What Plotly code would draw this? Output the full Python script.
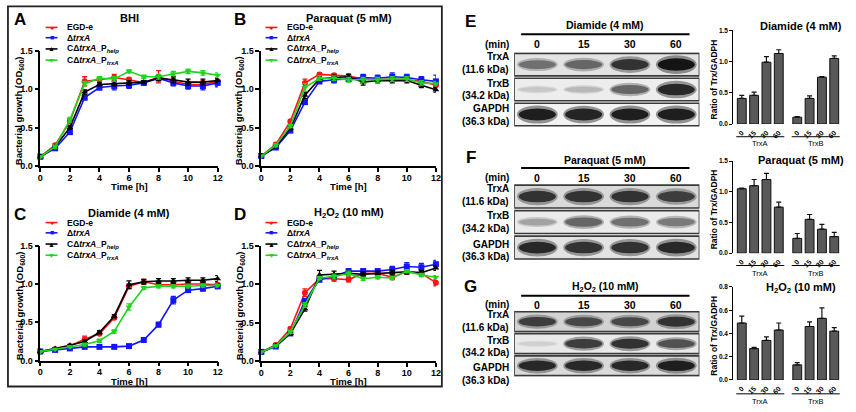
import plotly.graph_objects as go

W, H = 856, 412
F = "Arial, Liberation Sans, sans-serif"


def px(x):
    return x / W


def py(y):
    return 1 - y / H


# ---------------- data: growth curves ----------------
time_h = list(range(13))
strain_names = ["EGD-e", "Δ<i>trxA</i>", "CΔ<i>trxA</i>_P<sub><i>help</i></sub>",
                "CΔ<i>trxA</i>_P<sub><i>trxA</i></sub>"]
strain_colors = ["#ff1414", "#1414ff", "#000000", "#1fd41f"]
strain_symbols = ["circle", "square", "triangle-up", "triangle-down"]
legend_glyphs = ["●", "■", "▲", "▼"]

bhi_egd = [0.12, 0.27, 0.58, 1.10, 1.12, 1.15, 1.12, 1.08, 1.16, 1.10, 1.06, 1.06, 1.10]
bhi_dtrx = [0.12, 0.23, 0.44, 0.89, 1.02, 1.04, 1.05, 1.08, 1.14, 1.08, 1.04, 1.04, 1.08]
bhi_help = [0.12, 0.25, 0.50, 0.96, 1.06, 1.07, 1.08, 1.09, 1.14, 1.12, 1.09, 1.09, 1.11]
bhi_ptrx = [0.12, 0.25, 0.60, 1.07, 1.14, 1.13, 1.23, 1.16, 1.16, 1.20, 1.23, 1.21, 1.18]
bhi_egd_err = [0.01, 0.02, 0.03, 0.06, 0.04, 0.04, 0.03, 0.02, 0.08, 0.04, 0.04, 0.05, 0.04]
bhi_dtrx_err = [0.01, 0.02, 0.03, 0.03, 0.03, 0.05, 0.04, 0.03, 0.03, 0.04, 0.04, 0.05, 0.05]
bhi_help_err = [0.01, 0.01, 0.02, 0.03, 0.02, 0.03, 0.03, 0.02, 0.03, 0.04, 0.04, 0.04, 0.03]
bhi_ptrx_err = [0.01, 0.02, 0.03, 0.03, 0.02, 0.03, 0.02, 0.02, 0.03, 0.03, 0.03, 0.03, 0.03]

pq_egd = [0.13, 0.28, 0.58, 1.08, 1.19, 1.18, 1.17, 1.13, 1.12, 1.13, 1.12, 1.10, 1.05]
pq_dtrx = [0.13, 0.24, 0.46, 0.83, 1.10, 1.12, 1.13, 1.15, 1.14, 1.16, 1.15, 1.12, 1.10]
pq_help = [0.13, 0.25, 0.49, 0.92, 1.13, 1.15, 1.16, 1.09, 1.11, 1.11, 1.11, 1.05, 0.99]
pq_ptrx = [0.13, 0.27, 0.52, 1.02, 1.14, 1.14, 1.12, 1.12, 1.12, 1.13, 1.13, 1.08, 1.07]
pq_egd_err = [0.01, 0.02, 0.02, 0.05, 0.02, 0.02, 0.02, 0.02, 0.02, 0.02, 0.02, 0.03, 0.04]
pq_dtrx_err = [0.01, 0.02, 0.02, 0.03, 0.03, 0.04, 0.03, 0.04, 0.04, 0.05, 0.04, 0.04, 0.08]
pq_help_err = [0.01, 0.01, 0.02, 0.04, 0.03, 0.03, 0.03, 0.04, 0.03, 0.03, 0.03, 0.03, 0.03]
pq_ptrx_err = [0.01, 0.02, 0.02, 0.05, 0.03, 0.03, 0.03, 0.03, 0.03, 0.03, 0.03, 0.03, 0.03]

dia_egd = [0.12, 0.15, 0.19, 0.28, 0.35, 0.56, 0.97, 1.03, 0.99, 0.99, 1.00, 1.00, 0.99]
dia_dtrx = [0.12, 0.14, 0.16, 0.18, 0.18, 0.18, 0.19, 0.27, 0.47, 0.79, 0.92, 0.94, 0.97]
dia_help = [0.12, 0.16, 0.20, 0.25, 0.37, 0.58, 0.99, 1.03, 1.04, 1.04, 1.05, 1.05, 1.07]
dia_ptrx = [0.12, 0.15, 0.18, 0.21, 0.26, 0.38, 0.70, 0.95, 0.97, 0.97, 0.97, 0.98, 0.98]
dia_egd_err = [0.01, 0.01, 0.02, 0.04, 0.02, 0.02, 0.03, 0.03, 0.02, 0.02, 0.02, 0.02, 0.02]
dia_dtrx_err = [0.01, 0.01, 0.01, 0.01, 0.01, 0.01, 0.01, 0.02, 0.03, 0.05, 0.03, 0.03, 0.03]
dia_help_err = [0.01, 0.01, 0.01, 0.02, 0.02, 0.02, 0.05, 0.03, 0.03, 0.03, 0.03, 0.03, 0.04]
dia_ptrx_err = [0.01, 0.01, 0.01, 0.02, 0.02, 0.02, 0.04, 0.02, 0.02, 0.02, 0.02, 0.02, 0.02]

h2o2_egd = [0.12, 0.21, 0.42, 0.89, 1.07, 1.07, 1.06, 1.14, 1.14, 1.09, 1.16, 1.14, 1.02]
h2o2_dtrx = [0.12, 0.19, 0.36, 0.78, 1.06, 1.10, 1.17, 1.17, 1.17, 1.19, 1.23, 1.22, 1.26]
h2o2_help = [0.12, 0.20, 0.36, 0.68, 1.12, 1.13, 1.14, 1.13, 1.14, 1.15, 1.16, 1.15, 1.21]
h2o2_ptrx = [0.12, 0.20, 0.38, 0.73, 1.08, 1.10, 1.14, 1.07, 1.09, 1.08, 1.17, 1.12, 1.09]
h2o2_egd_err = [0.01, 0.02, 0.02, 0.05, 0.02, 0.03, 0.03, 0.03, 0.02, 0.03, 0.03, 0.03, 0.04]
h2o2_dtrx_err = [0.01, 0.01, 0.02, 0.03, 0.03, 0.03, 0.03, 0.03, 0.03, 0.04, 0.05, 0.05, 0.05]
h2o2_help_err = [0.01, 0.01, 0.02, 0.03, 0.06, 0.04, 0.03, 0.03, 0.03, 0.03, 0.03, 0.03, 0.03]
h2o2_ptrx_err = [0.01, 0.01, 0.02, 0.03, 0.02, 0.03, 0.03, 0.02, 0.02, 0.02, 0.02, 0.02, 0.02]

growth_titles = ["BHI", "Paraquat (5 mM)", "Diamide (4 mM)", "H<sub>2</sub>O<sub>2</sub> (10 mM)"]
growth_letters = ["A", "B", "C", "D"]

# ---------------- data: densitometry ----------------
lane_minutes = ["0", "15", "30", "60"]
protein_groups = ["TrxA", "TrxB"]
bar_titles = ["Diamide (4 mM)", "Paraquat (5 mM)", "H<sub>2</sub>O<sub>2</sub> (10 mM)"]
dia_trxa = [0.41, 0.46, 0.99, 1.13]
dia_trxa_err = [0.05, 0.05, 0.09, 0.06]
dia_trxb = [0.11, 0.41, 0.75, 1.05]
dia_trxb_err = [0.01, 0.04, 0.01, 0.04]
pq_trxa = [1.05, 1.10, 1.20, 0.75]
pq_trxa_err = [0.01, 0.10, 0.10, 0.08]
pq_trxb = [0.24, 0.55, 0.39, 0.27]
pq_trxb_err = [0.08, 0.08, 0.08, 0.07]
h2o2_trxa = [0.49, 0.27, 0.34, 0.43]
h2o2_trxa_err = [0.06, 0.01, 0.03, 0.06]
h2o2_trxb = [0.13, 0.46, 0.53, 0.42]
h2o2_trxb_err = [0.02, 0.04, 0.09, 0.03]

# ---------------- data: western blot band intensities (0..1) ----------------
blot_rows = ["TrxA", "TrxB", "GAPDH"]
blot_kda = ["(11.6 kDa)", "(34.2 kDa)", "(36.3 kDa)"]
blot_letters = ["E", "F", "G"]
dia_bands = [[0.55, 0.6, 0.85, 1.0], [0.12, 0.2, 0.6, 0.9], [0.95, 0.92, 0.95, 0.95]]
pq_bands = [[0.85, 0.85, 0.85, 0.8], [0.3, 0.6, 0.55, 0.5], [0.9, 0.85, 0.85, 0.9]]
h2o2_bands = [[0.8, 0.75, 0.75, 0.85], [0.08, 0.8, 0.85, 0.7], [0.9, 0.9, 0.9, 0.95]]
blot_bg = [["#e3e3e3", "#ededed", "#f2f2f2"],
           ["#d9d9d9", "#ebebeb", "#e2e2e2"],
           ["#d2d2d2", "#e9e9e9", "#dadada"]]

fig = go.Figure()
layout = dict(width=W, height=H, margin=dict(l=0, r=0, t=0, b=0),
              paper_bgcolor="white", plot_bgcolor="rgba(0,0,0,0)",
              showlegend=False, font=dict(family=F, color="black"))
annotations = []
shapes = []


def ann(x, y, text, size=9, xanchor="center", yanchor="middle", color="black", bold=True, **kw):
    annotations.append(dict(x=px(x), y=py(y), xref="paper", yref="paper", text=text,
                            showarrow=False, xanchor=xanchor, yanchor=yanchor,
                            font=dict(size=size, family=F, color=color,
                                      weight="bold" if bold else "normal"), **kw))


# ---------------- growth panels ----------------
growth_sets = [
    ([bhi_egd, bhi_dtrx, bhi_help, bhi_ptrx], [bhi_egd_err, bhi_dtrx_err, bhi_help_err, bhi_ptrx_err]),
    ([pq_egd, pq_dtrx, pq_help, pq_ptrx], [pq_egd_err, pq_dtrx_err, pq_help_err, pq_ptrx_err]),
    ([dia_egd, dia_dtrx, dia_help, dia_ptrx], [dia_egd_err, dia_dtrx_err, dia_help_err, dia_ptrx_err]),
    ([h2o2_egd, h2o2_dtrx, h2o2_help, h2o2_ptrx], [h2o2_egd_err, h2o2_dtrx_err, h2o2_help_err, h2o2_ptrx_err]),
]
# (x_left, x_right, y_top, y_bottom) of plotting areas, and panel offsets
growth_boxes = [(37.7, 216.7, 46.7, 165.0, 0, 0), (260.7, 437.0, 46.7, 165.0, 222, 0),
                (37.7, 216.7, 246.7, 364.5, 0, 200), (260.7, 437.0, 246.7, 365.0, 222, 200)]

for i, (series, errs) in enumerate(growth_sets):
    n = i + 1
    xa = "x" if n == 1 else f"x{n}"
    ya = "y" if n == 1 else f"y{n}"
    x0, x1, yt, yb, ox, oy = growth_boxes[i]
    for s in range(4):
        fig.add_trace(go.Scatter(
            x=time_h, y=series[s], xaxis=xa, yaxis=ya, mode="lines+markers",
            line=dict(color=strain_colors[s], width=1.6),
            marker=dict(symbol=strain_symbols[s], size=6, color=strain_colors[s]),
            error_y=dict(type="data", array=errs[s], color=strain_colors[s], thickness=1.3, width=2.5),
            cliponaxis=False, name=strain_names[s]))
    axcommon = dict(showline=True, linewidth=1.6, linecolor="black", showgrid=False, zeroline=False,
                    ticks="outside", ticklen=4, tickwidth=1.5, tickcolor="black",
                    tickfont=dict(size=9, family=F, weight="bold"))
    layout["xaxis" if n == 1 else f"xaxis{n}"] = dict(
        domain=[px(x0), px(x1)], range=[0, 12], dtick=2, anchor=ya, ticklabelstandoff=-2, **axcommon)
    layout["yaxis" if n == 1 else f"yaxis{n}"] = dict(
        domain=[py(yb), py(yt)], range=[0, 1.5], dtick=0.5, tickformat=".1f", anchor=xa, **axcommon)
    # panel text
    ann(ox + 17, oy + 15, growth_letters[i], size=17)
    ann((x0 + x1) / 2 - 0, oy + 13, growth_titles[i], size=11)
    ann((x0 + x1) / 2, oy + 186, "Time [h]", size=9.5)
    ann(ox + 17, oy + 108, "Bacterial growth (OD<sub>600</sub>)", size=9.5, textangle=-90)
    # legend
    leg_y = [23, 33.5, 45, 56.5]
    lx = ox + 43
    for s in range(4):
        shapes.append(dict(type="line", xref="paper", yref="paper", x0=px(lx), x1=px(lx + 12),
                           y0=py(oy + leg_y[s]), y1=py(oy + leg_y[s]),
                           line=dict(color=strain_colors[s], width=1.6)))
        ann(lx + 6, oy + leg_y[s], legend_glyphs[s], size=7, color=strain_colors[s], bold=False)
        ann(lx + 20, oy + leg_y[s], strain_names[s], size=8.5, xanchor="left")

shapes.append(dict(type="rect", xref="paper", yref="paper", x0=px(5), x1=px(443), y0=py(391), y1=py(1.5),
                   line=dict(color="#222", width=1.8)))

# ---------------- bar panels ----------------
bar_x = [0, 1, 2, 3, 4.5, 5.5, 6.5, 7.5]
bar_sets = [(dia_trxa + dia_trxb, dia_trxa_err + dia_trxb_err),
            (pq_trxa + pq_trxb, pq_trxa_err + pq_trxb_err),
            (h2o2_trxa + h2o2_trxb, h2o2_trxa_err + h2o2_trxb_err)]
bar_boxes = [(26, 122, 1.5, 0.5, 22, 135, 141.5), (160, 254.3, 1.5, 0.5, 159, 267, 275),
             (289, 384.3, 0.8, 0.2, 290, 398.5, 406)]
for j, (vals, errs) in enumerate(bar_sets):
    n = 5 + j
    yt, yb, ymax, dt, ty, gline, glab = bar_boxes[j]
    fig.add_trace(go.Bar(x=bar_x, y=vals, xaxis=f"x{n}", yaxis=f"y{n}", width=0.72,
                         marker=dict(color="#595959", line=dict(color="#111", width=1)),
                         error_y=dict(type="data", array=errs, arrayminus=[0] * 8, symmetric=False,
                                      color="#111", thickness=1.2, width=2.5)))
    layout[f"xaxis{n}"] = dict(domain=[px(737.3), px(845.3)], range=[-0.68, 8.0], anchor=f"y{n}",
                               tickmode="array", tickvals=bar_x, ticktext=lane_minutes * 2,
                               tickangle=-45, showline=False, showgrid=False, zeroline=False,
                               ticks="outside", ticklen=1, tickcolor="rgba(0,0,0,0)",
                               tickfont=dict(size=7, family=F, weight="bold"))
    layout[f"yaxis{n}"] = dict(domain=[py(yb), py(yt)], range=[0, ymax], dtick=dt, tickformat=".1f",
                               anchor=f"x{n}", showline=True, linewidth=1.2, linecolor="black",
                               showgrid=False, zeroline=False, ticks="outside", ticklen=3,
                               tickwidth=1, tickcolor="black",
                               tickfont=dict(size=6.5, family=F, weight="bold"))
    ann(806, ty, bar_titles[j], size=11)
    ann(718, (yt + yb) / 2 + 2, "Ratio of Trx/GADPH", size=8.5, textangle=-90)
    for g, (ga, gb) in enumerate([(-0.45, 3.45), (4.05, 7.95)]):
        shapes.append(dict(type="line", xref=f"x{n}", yref="paper", x0=ga, x1=gb,
                           y0=py(gline), y1=py(gline), line=dict(color="black", width=1)))
        annotations.append(dict(x=(ga + gb) / 2, y=py(glab), xref=f"x{n}", yref="paper",
                                text=protein_groups[g], showarrow=False, yanchor="middle",
                                font=dict(size=7.5, family=F)))

# ---------------- western blot panels ----------------
blot_sets = [dia_bands, pq_bands, h2o2_bands]
blot_titles = ["Diamide (4 mM)", "Paraquat (5 mM)", "H<sub>2</sub>O<sub>2</sub> (10 mM)"]
# (rows top, rows bottom, title y, rule y, (min) y, letter y, label-pair starts)
blot_boxes = [(48.3, 125.0, 20, 30, 40, 17, (53, 80, 106)),
              (183.3, 261.7, 159, 167, 177, 156, (188, 216, 245)),
              (313.3, 381.0, 289, 298, 307, 288, (317.5, 343.5, 372))]
for k, bands in enumerate(blot_sets):
    n = 8 + k
    top, bot, ty, ry, my, ly, lab_y = blot_boxes[k]
    layout[f"xaxis{n}"] = dict(domain=[px(516), px(703)], range=[-0.5, 3.5], visible=False,
                               anchor=f"y{n}")
    layout[f"yaxis{n}"] = dict(domain=[py(bot), py(top)], range=[0, 3], visible=False,
                               anchor=f"x{n}")
    for r in range(3):
        yc = 2.5 - r
        shapes.append(dict(type="rect", xref=f"x{n}", yref=f"y{n}", x0=-0.5, x1=3.5,
                           y0=yc - 0.45, y1=yc + 0.45, fillcolor=blot_bg[k][r],
                           line=dict(color="#3a3a3a", width=1.6), layer="below"))
        for lane, inten in enumerate(bands[r]):
            h = 0.16 + 0.34 * inten
            g_in = int(225 - 205 * inten)
            g_out = int(225 - 110 * inten)
            shapes.append(dict(type="circle", xref=f"x{n}", yref=f"y{n}",
                               x0=lane - 0.44, x1=lane + 0.44, y0=yc - h * 0.75, y1=yc + h * 0.75,
                               fillcolor=f"rgb({g_out},{g_out},{g_out})", line=dict(width=0),
                               opacity=0.8))
            shapes.append(dict(type="circle", xref=f"x{n}", yref=f"y{n}",
                               x0=lane - 0.40, x1=lane + 0.40, y0=yc - h / 2, y1=yc + h / 2,
                               fillcolor=f"rgb({g_in},{g_in},{g_in})", line=dict(width=0)))
        ann(513, lab_y[r], blot_rows[r], size=10, xanchor="right")
        ann(513, lab_y[r] + 13, blot_kda[r], size=10, xanchor="right")
    for lane, lab in enumerate(lane_minutes):
        annotations.append(dict(x=lane, y=py(my), xref=f"x{n}", yref="paper", text=lab,
                                showarrow=False, yanchor="middle",
                                font=dict(size=10.5, family=F, weight="bold")))
    ann(513, my, "(min)", size=10, xanchor="right")
    ann(608, ty, blot_titles[k], size=10.5)
    shapes.append(dict(type="line", xref="paper", yref="paper", x0=px(523), x1=px(693),
                       y0=py(ry), y1=py(ry), line=dict(color="black", width=2)))
    ann(472, ly, blot_letters[k], size=17)

layout["annotations"] = annotations
layout["shapes"] = shapes
fig.update_layout(**layout)
fig.write_html("out.html", config={"displayModeBar": False},
               post_script="document.body.style.margin='0';document.body.style.overflow='hidden';")
